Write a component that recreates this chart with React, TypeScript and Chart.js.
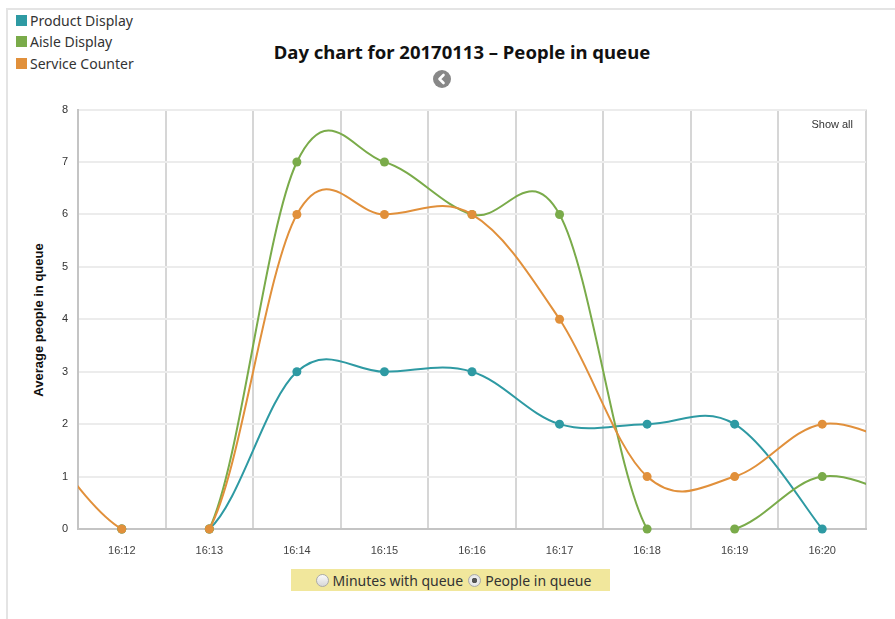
import React, { useEffect, useRef } from "react";
import { Chart, registerables } from "chart.js";

Chart.register(...registerables);

// minutes after 16:00
const minutes = [11, 12, 13, 14, 15, 16, 17, 18, 19, 20, 21];
const tickMinutes = [12, 13, 14, 15, 16, 17, 18, 19, 20];
const tickLabels = ["16:12", "16:13", "16:14", "16:15", "16:16", "16:17", "16:18", "16:19", "16:20"];
const yTicks = [0, 1, 2, 3, 4, 5, 6, 7, 8];

const productDisplay: (number | null)[] = [null, 0, 0, 3, 3, 3, 2, 2, 2, 0, null];
const aisleDisplay: (number | null)[] = [null, 0, 0, 7, 7, 6, 6, 0, 0, 1, 0.5];
const serviceCounter: (number | null)[] = [1.9, 0, 0, 6, 6, 6, 4, 1, 1, 2, 1.5];

const seriesNames = ["Product Display", "Aisle Display", "Service Counter"];
const TEAL = "#2e9aa3";
const GREEN = "#7aab4a";
const ORANGE = "#e1903b";
const seriesColors = [TEAL, GREEN, ORANGE];

const UI_FONT = "'Noto Sans', 'Open Sans', sans-serif";
const AX_FONT = "'Liberation Sans', Arial, sans-serif";

function toPoints(vals: (number | null)[]) {
  return minutes.map((m, i) => ({ x: m, y: vals[i] }));
}

// cardinal spline with uniform (x-spacing based) tangents instead of distance-weighted ones
const SPLINE_K = 0.18;
const uniformSpline = {
  id: "uniformSpline",
  beforeDatasetDraw(chart: any, args: any) {
    const meta = args.meta;
    const line = meta.dataset;
    if (!line) return;
    line.updateControlPoints(chart.chartArea);
    const pts = meta.data;
    for (let i = 0; i < pts.length; i++) {
      const p = pts[i];
      if (p.skip) continue;
      const prev = i > 0 && !pts[i - 1].skip ? pts[i - 1] : p;
      const next = i < pts.length - 1 && !pts[i + 1].skip ? pts[i + 1] : p;
      const dx = next.x - prev.x;
      const dy = next.y - prev.y;
      p.cp1x = p.x - SPLINE_K * dx;
      p.cp1y = p.y - SPLINE_K * dy;
      p.cp2x = p.x + SPLINE_K * dx;
      p.cp2y = p.y + SPLINE_K * dy;
    }
  },
};

export default function App() {
  const canvasRef = useRef<HTMLCanvasElement | null>(null);

  useEffect(() => {
    document.body.style.margin = "0";
    const canvas = canvasRef.current;
    if (!canvas) return;
    const hideZeroRuns = {
      borderColor: (ctx: any) =>
        ctx.p0.parsed.y === 0 && ctx.p1.parsed.y === 0 ? "rgba(0,0,0,0)" : undefined,
    };
    const mk = (label: string, vals: (number | null)[], color: string) => ({
      label,
      data: toPoints(vals),
      borderColor: color,
      backgroundColor: color,
      pointBackgroundColor: color,
      pointBorderWidth: 0,
      pointRadius: 4.5,
      borderWidth: 2,
      tension: 0.4,
      fill: false,
      spanGaps: false,
      segment: hideZeroRuns,
      clip: { left: 0, right: 0, top: 10, bottom: 10 },
    });
    const chart = new Chart(canvas, {
      type: "line",
      data: {
        datasets: [
          mk(seriesNames[2], serviceCounter, seriesColors[2]),
          mk(seriesNames[1], aisleDisplay, seriesColors[1]),
          mk(seriesNames[0], productDisplay, seriesColors[0]),
        ] as any,
      },
      plugins: [uniformSpline],
      options: {
        animation: false,
        responsive: false,
        maintainAspectRatio: false,
        layout: { padding: { top: 10, right: 29, left: 0, bottom: 0 } },
        elements: { line: { capBezierPoints: false } },
        plugins: {
          legend: { display: false },
          tooltip: { enabled: false },
          title: { display: false },
        },
        scales: {
          x: {
            type: "linear",
            min: 11.5,
            max: 20.5,
            afterBuildTicks: (axis: any) => {
              const t: { value: number }[] = [];
              for (let i = 0; i <= tickMinutes.length; i++) {
                t.push({ value: tickMinutes[0] - 0.5 + i });
                if (i < tickMinutes.length) t.push({ value: tickMinutes[i] });
              }
              axis.ticks = t;
            },
            afterFit: (axis: any) => {
              axis.height = 42;
            },
            ticks: {
              autoSkip: false,
              maxRotation: 0,
              padding: 15,
              color: "#444",
              font: { family: AX_FONT, size: 11 },
              callback: (v: any) => {
                const idx = tickMinutes.indexOf(Number(v));
                return idx >= 0 ? tickLabels[idx] : "";
              },
            },
            grid: {
              drawTicks: false,
              lineWidth: 2,
              color: (ctx: any) =>
                ctx.tick && Number.isInteger(ctx.tick.value) ? "rgba(0,0,0,0)" : "#d6d6d6",
            },
            border: { display: true, color: "#c4c4c4", width: 2 },
          },
          y: {
            type: "linear",
            min: 0,
            max: 8,
            afterBuildTicks: (axis: any) => {
              axis.ticks = yTicks.map((v) => ({ value: v }));
            },
            afterFit: (axis: any) => {
              axis.width = 78;
            },
            ticks: {
              padding: 10,
              color: "#333",
              font: { family: AX_FONT, size: 11 },
            },
            grid: { drawTicks: false, lineWidth: 2, color: "#ececec" },
            border: { display: true, color: "#c4c4c4", width: 2 },
          },
        },
      },
    });
    return () => chart.destroy();
  }, []);

  return (
    <div style={{ position: "relative", width: 895, height: 619, overflow: "hidden", background: "#fff" }}>
      <div
        style={{
          position: "absolute",
          left: 6,
          top: 8,
          width: 950,
          height: 700,
          border: "2px solid #e4e4e4",
          boxSizing: "border-box",
        }}
      />
      {seriesNames.map((n, i) => (
        <div
          key={n}
          style={{
            position: "absolute",
            left: 16,
            top: 10 + i * 21.5,
            height: 20,
            display: "flex",
            alignItems: "center",
            fontFamily: UI_FONT,
            fontSize: 14,
            color: "#333",
            whiteSpace: "nowrap",
          }}
        >
          <span style={{ display: "inline-block", width: 11, height: 11, background: seriesColors[i], marginRight: 3 }} />
          {n}
        </div>
      ))}
      <div
        style={{
          position: "absolute",
          left: 0,
          width: 924,
          top: 39,
          textAlign: "center",
          fontFamily: UI_FONT,
          fontWeight: "bold",
          fontSize: 18.5,
          color: "#111",
          whiteSpace: "nowrap",
        }}
      >
        Day chart for 20170113 – People in queue
      </div>
      <svg style={{ position: "absolute", left: 432, top: 69 }} width={20} height={20}>
        <circle cx={10} cy={10} r={9} fill="#888" />
        <polyline points="11.5,6 7.5,10 11.5,14" fill="none" stroke="#fff" strokeWidth={2.6} strokeLinecap="round" strokeLinejoin="round" />
      </svg>
      <div
        style={{
          position: "absolute",
          left: 38,
          top: 320,
          transform: "translate(-50%, -50%) rotate(-90deg)",
          fontFamily: AX_FONT,
          fontWeight: "bold",
          fontSize: 13,
          color: "#111",
          whiteSpace: "nowrap",
        }}
      >
        Average people in queue
      </div>
      <canvas
        ref={canvasRef}
        width={895}
        height={478}
        style={{ position: "absolute", left: 0, top: 93, width: 895, height: 478 }}
      />
      <div
        style={{
          position: "absolute",
          right: 895 - 853,
          top: 118,
          fontFamily: AX_FONT,
          fontSize: 11,
          color: "#333",
          whiteSpace: "nowrap",
        }}
      >
        Show all
      </div>
      <div
        style={{
          position: "absolute",
          left: 291,
          top: 569,
          width: 319,
          height: 22,
          boxSizing: "border-box",
          paddingLeft: 6,
          background: "#f1e79c",
          display: "flex",
          alignItems: "center",
          justifyContent: "center",
          fontFamily: UI_FONT,
          fontSize: 14,
          color: "#333",
          whiteSpace: "nowrap",
        }}
      >
        <span
          style={{
            display: "inline-block",
            width: 11,
            height: 11,
            borderRadius: "50%",
            border: "1px solid #aaa",
            background: "linear-gradient(#fafafa, #d8d8d8)",
            marginRight: 4,
          }}
        />
        Minutes with queue
        <span
          style={{
            display: "inline-block",
            width: 11,
            height: 11,
            borderRadius: "50%",
            border: "1px solid #aaa",
            background: "radial-gradient(circle, #555 0, #555 2.5px, #eee 3px, #d8d8d8 100%)",
            marginLeft: 5,
            marginRight: 4,
          }}
        />
        People in queue
      </div>
    </div>
  );
}
